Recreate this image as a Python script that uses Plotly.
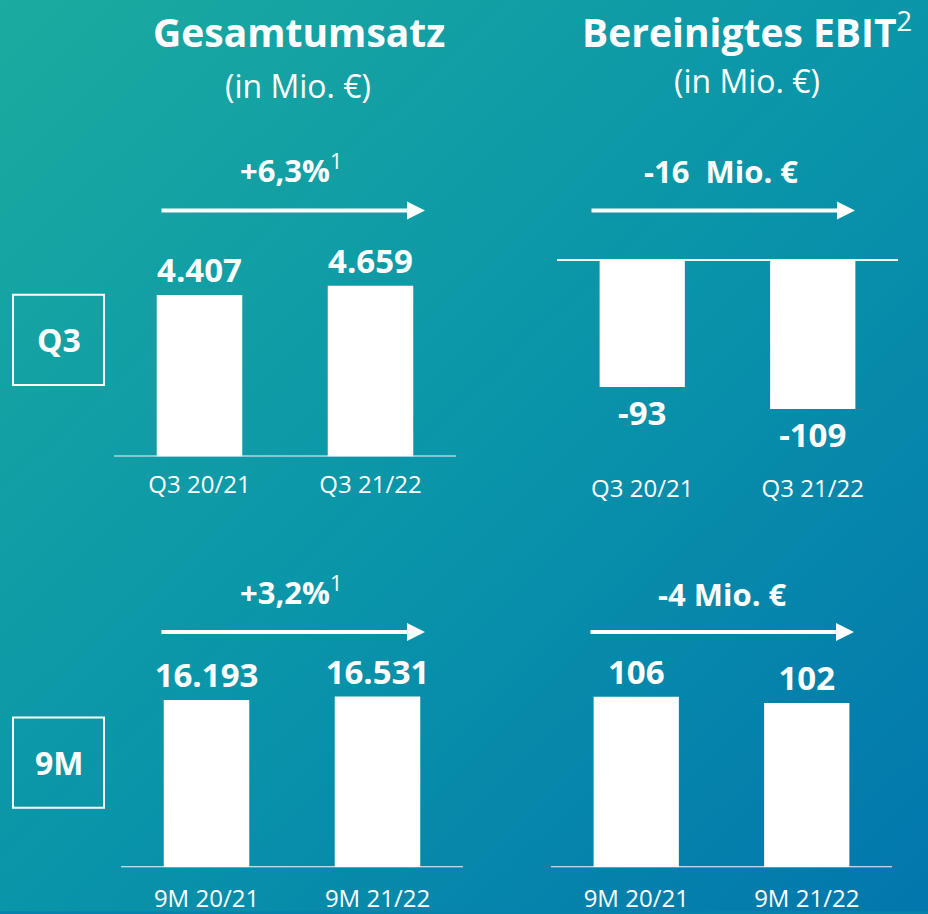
import base64
import plotly.graph_objects as go

# Daten
kategorien_q3 = ["Q3 20/21", "Q3 21/22"]
kategorien_9m = ["9M 20/21", "9M 21/22"]
umsatz_q3 = [4407, 4659]
umsatz_9m = [16193, 16531]
ebit_q3 = [-93, -109]
ebit_9m = [106, 102]
veraenderung = ["+6,3%", "-16\u00a0 Mio. €", "+3,2%", "-4 Mio. €"]
fussnote = ["1", "", "1", ""]

W, H = 928, 914
WHITE = "#FFFFFF"
FONT = "Open Sans"


def px(x):
    return x / W


def py(y):
    return 1 - y / H


def de(v):
    return f"{v:,}".replace(",", ".")


# Hintergrund mit diagonalem Verlauf
svg = (
    f'<svg xmlns="http://www.w3.org/2000/svg" width="{W}" height="{H}" preserveAspectRatio="none">'
    '<defs><linearGradient id="g" x1="0" y1="0" x2="1" y2="1">'
    '<stop offset="0" stop-color="#1CAB9F"/>'
    '<stop offset="0.5" stop-color="#0A95A9"/>'
    '<stop offset="1" stop-color="#0276AD"/>'
    '</linearGradient></defs>'
    f'<rect width="{W}" height="{H}" fill="url(#g)"/></svg>'
)
bg = "data:image/svg+xml;base64," + base64.b64encode(svg.encode()).decode()

fig = go.Figure()

panels = [
    (kategorien_q3, umsatz_q3, "x", "y"),
    (kategorien_q3, ebit_q3, "x2", "y2"),
    (kategorien_9m, umsatz_9m, "x3", "y3"),
    (kategorien_9m, ebit_9m, "x4", "y4"),
]

for cats, vals, xa, ya in panels:
    fig.add_trace(go.Bar(
        x=cats, y=vals, xaxis=xa, yaxis=ya,
        marker=dict(color=WHITE, line=dict(width=0)),
        text=[de(v) for v in vals],
        textposition="outside",
        textfont=dict(family=FONT, size=33, color=WHITE, weight="bold"),
        constraintext="none",
        cliponaxis=False,
        showlegend=False,
        hoverinfo="skip",
    ))
    # Grundlinie
    fig.add_shape(type="line", xref=f"{xa} domain", yref=ya,
                  x0=0, x1=1, y0=0, y1=0,
                  line=dict(color="rgba(255,255,255,0.95)", width=2))

xcommon = dict(type="category", range=[-0.5, 1.5], showgrid=False, showline=False,
               zeroline=False, ticks="", fixedrange=True,
               tickfont=dict(family=FONT, size=24, color=WHITE))
ycommon = dict(visible=False, fixedrange=True)

fig.update_layout(
    width=W, height=H,
    margin=dict(l=0, r=0, t=0, b=0),
    paper_bgcolor="#0683AC",
    plot_bgcolor="rgba(0,0,0,0)",
    bargap=0.5,
    showlegend=False,
    xaxis=dict(xcommon, domain=[px(114), px(456)], anchor="y", ticklabelstandoff=12),
    yaxis=dict(ycommon, domain=[py(460), py(220)], range=[0, 6500], anchor="x"),
    xaxis2=dict(xcommon, domain=[px(557), px(898)], anchor="y2", ticklabelstandoff=14),
    yaxis2=dict(ycommon, domain=[py(462), py(252)], range=[-145.3, 7.27], anchor="x2"),
    xaxis3=dict(xcommon, domain=[px(121), px(463)], anchor="y3", ticklabelstandoff=15),
    yaxis3=dict(ycommon, domain=[py(874), py(660)], range=[0, 20560], anchor="x3"),
    xaxis4=dict(xcommon, domain=[px(551), px(892)], anchor="y4", ticklabelstandoff=15),
    yaxis4=dict(ycommon, domain=[py(874), py(660)], range=[0, 131.9], anchor="x4"),
    images=[dict(source=bg, xref="paper", yref="paper", x=-0.005, y=1.005,
                 sizex=1.01, sizey=1.01, sizing="stretch", layer="below")],
)

# Überschriften
titel = [
    ("<b>Gesamtumsatz</b>", 299, 32, 39),
    ("(in Mio. €)", 298, 86, 32),
    ("<b>Bereinigtes EBIT</b><sup>2</sup>", 747, 30, 39),
    ("(in Mio. €)", 747, 81, 32),
]
for txt, x, y, size in titel:
    fig.add_annotation(text=txt, x=px(x), y=py(y), xref="paper", yref="paper",
                       showarrow=False, xanchor="center", yanchor="middle",
                       font=dict(family=FONT, size=size, color=WHITE))

# Veränderungen mit Pfeilen
pos = [(291, 170, 160, 425, 212), (721, 172, 590, 855, 212),
       (291, 595, 160, 425, 637), (722, 599, 589, 854, 637)]
for txt, fn, (tx, ty, x0, x1, ya) in zip(veraenderung, fussnote, pos):
    label = f"<b>{txt}</b>" + (f"<sup>{fn}</sup>" if fn else "")
    fig.add_annotation(text=label, x=px(tx), y=py(ty), xref="paper", yref="paper",
                       showarrow=False, xanchor="center", yanchor="middle",
                       font=dict(family=FONT, size=31, color=WHITE))
    fig.add_annotation(x=px(x1), y=py(ya), xref="paper", yref="paper",
                       ax=-(x1 - x0), ay=0, axref="pixel", ayref="pixel",
                       showarrow=True, arrowhead=2, arrowsize=0.9, arrowwidth=4,
                       arrowcolor=WHITE, text="")

# Kästen links
for txt, (x0, y0, x1, y1) in [("Q3", (13, 297, 104, 388)), ("9M", (13, 723, 104, 814))]:
    fig.add_shape(type="rect", xref="paper", yref="paper",
                  x0=px(x0), x1=px(x1), y0=py(y0), y1=py(y1),
                  line=dict(color=WHITE, width=2))
    fig.add_annotation(text=f"<b>{txt}</b>", x=px((x0 + x1) / 2), y=py((y0 + y1) / 2),
                       xref="paper", yref="paper", showarrow=False,
                       xanchor="center", yanchor="middle",
                       font=dict(family=FONT, size=32, color=WHITE))

# Seitenrand entfernen, damit die Grafik bündig im Fenster sitzt
js = (
    "document.body.style.margin='0';"
    "document.body.style.overflow='hidden';"
    "document.documentElement.style.overflow='hidden';"
    "window.scrollTo(0,0);"
)
fig.write_html("out.html", config={"displayModeBar": False}, post_script=js)
